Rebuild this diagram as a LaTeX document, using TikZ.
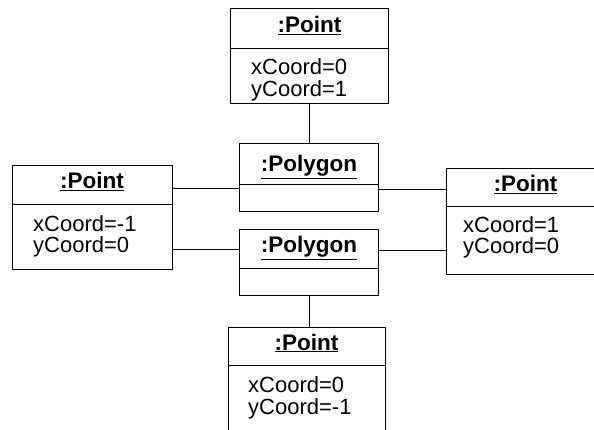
\documentclass[tikz,border=0pt]{standalone}
\usepackage{fontspec}
\setmainfont{Liberation Sans}
\begin{document}
\begin{tikzpicture}[x=1pt,y=-1pt,
  box/.style={draw,line width=0.9pt,inner sep=0pt,anchor=north west},
  div/.style={line width=0.9pt},
  ttl/.style={font=\fontsize{22.5}{22}\selectfont\bfseries,inner sep=0pt,anchor=base},
  attr/.style={font=\fontsize{22}{22}\selectfont,inner sep=0pt,anchor=base west},
  conn/.style={line width=0.8pt}]
\useasboundingbox (0,0) rectangle (594,430);
\newcommand{\ul}[1]{\underline{#1}}
% top point
\node[box,minimum width=158pt,minimum height=95pt] (pt) at (230,8) {};
\draw[div] (230,48) -- (388,48);
\node[ttl] (ptt) at (309.5,33) {\ul{:Point}};
\node[attr] (pta1) at (251,75) {xCoord=0};
\node[attr] (pta2) at (251,97) {yCoord=1};
% left point
\node[box,minimum width=160pt,minimum height=104pt] (pl) at (12,165) {};
\draw[div] (12,204) -- (172,204);
\node[ttl] (plt) at (92,189) {\ul{:Point}};
\node[attr] (pla1) at (33,232) {xCoord=-1};
\node[attr] (pla2) at (33,253) {yCoord=0};
% right point (runs past the right edge)
\node[box,minimum width=160pt,minimum height=106pt] (pr) at (446,168) {};
\draw[div] (446,206) -- (606,206);
\node[ttl] (prt) at (525.5,192) {\ul{:Point}};
\node[attr] (pra1) at (463,233) {xCoord=1};
\node[attr] (pra2) at (463,254) {yCoord=0};
% bottom point (runs past the bottom edge)
\node[box,minimum width=157pt,minimum height=115pt] (pb) at (228,327) {};
\draw[div] (228,365) -- (385,365);
\node[ttl] (pbt) at (306.5,350) {\ul{:Point}};
\node[attr] (pba1) at (248,392) {xCoord=0};
\node[attr] (pba2) at (248,414) {yCoord=-1};
% polygons
\node[box,minimum width=139pt,minimum height=68pt] (pg1) at (239,143) {};
\draw[div] (239,184) -- (378,184);
\node[ttl] (pg1t) at (309,172) {\ul{:Polygon}};
\node[box,minimum width=139pt,minimum height=66pt] (pg2) at (239,229) {};
\draw[div] (239,268) -- (378,268);
\node[ttl] (pg2t) at (309,253) {\ul{:Polygon}};
% connectors
\draw[conn] (pg1.north |- pt.south) -- (pg1.north);
\draw[conn] (pl.east |- 0,188) -- (pg1.west |- 0,188);
\draw[conn] (pl.east |- 0,249) -- (pg2.west |- 0,249);
\draw[conn] (pg1.east |- 0,189) -- (pr.west |- 0,189);
\draw[conn] (pg2.east |- 0,250) -- (pr.west |- 0,250);
\draw[conn] (pg2.south) -- (pg2.south |- pb.north);
\end{tikzpicture}
\end{document}
